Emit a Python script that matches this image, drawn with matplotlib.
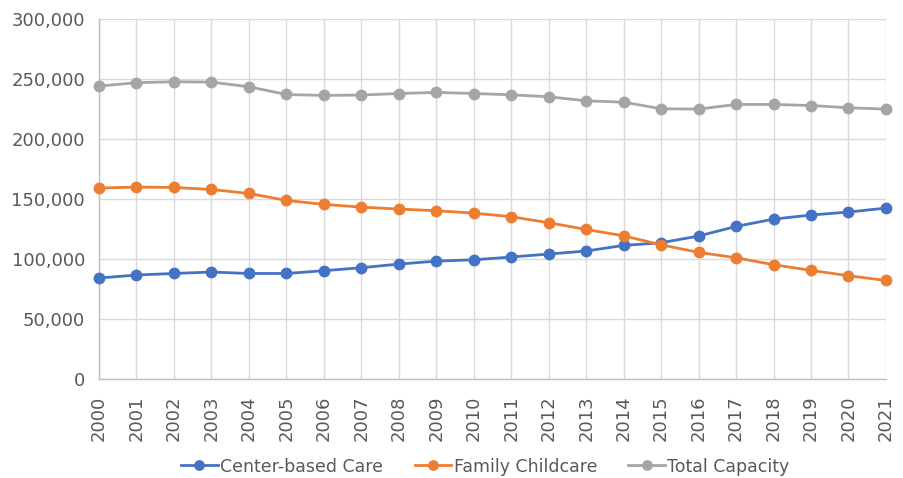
import matplotlib
matplotlib.use('Agg')
import matplotlib.pyplot as plt
from matplotlib.ticker import FuncFormatter, MultipleLocator

plt.rcParams['font.family'] = ['DejaVu Sans']

# 연도별 보육 정원
years = list(range(2000, 2022))
center_based = [84200, 86700, 88000, 89200, 88000, 88000, 90300, 92800, 95800, 98300, 99400,
                101700, 104200, 106700, 111400, 113600, 119200, 127200, 133300, 136700, 139200, 142500]
family_care = [159200, 160000, 159700, 158000, 154700, 148900, 145600, 143300, 141700, 140300, 138300,
               135300, 130300, 124700, 119400, 111900, 105600, 101100, 95300, 90600, 86100, 82200]
total_capacity = [244200, 247000, 247800, 247500, 243600, 237200, 236400, 236700, 238000, 238900, 238000,
                  236900, 235300, 231900, 230800, 225300, 225000, 228900, 228900, 228000, 226100, 225000]

series = [
    ('Center-based Care', center_based, '#4472C4'),
    ('Family Childcare', family_care, '#ED7D31'),
    ('Total Capacity', total_capacity, '#A5A5A5'),
]

text_color = '#595959'
grid_color = '#D9D9D9'

fig = plt.figure(figsize=(9.04, 4.78), dpi=100)
ax = fig.add_axes([0.1095, 0.207, 0.8705, 0.753])

for name, values, color in series:
    ax.plot(years, values, color=color, lw=2.0, marker='o', markersize=7.5,
            label=name, clip_on=False, zorder=3)

ax.set_xlim(2000, 2021)
ax.set_ylim(0, 300000)
ax.yaxis.set_major_locator(MultipleLocator(50000))
ax.yaxis.set_major_formatter(FuncFormatter(lambda v, p: f'{int(v):,}'))
ax.set_xticks(years)
ax.set_xticklabels([str(y) for y in years], rotation=90, va='top')

ax.grid(True, color=grid_color, lw=1.0)
ax.set_axisbelow(True)
for side in ['top', 'right']:
    ax.spines[side].set_visible(False)
for side in ['left', 'bottom']:
    ax.spines[side].set_color('#BFBFBF')
    ax.spines[side].set_linewidth(1.0)

ax.tick_params(axis='both', length=0, colors=text_color, labelsize=13)
ax.tick_params(axis='y', pad=10)
ax.tick_params(axis='x', pad=12)

leg = fig.legend(loc='center', bbox_to_anchor=(0.537, 0.024), ncol=3, frameon=False,
                 fontsize=12.5, handlelength=2.1, handletextpad=0.15, columnspacing=1.8,
                 markerscale=0.9, borderpad=0)
for t in leg.get_texts():
    t.set_color(text_color)

fig.savefig('out.png', dpi=100)
